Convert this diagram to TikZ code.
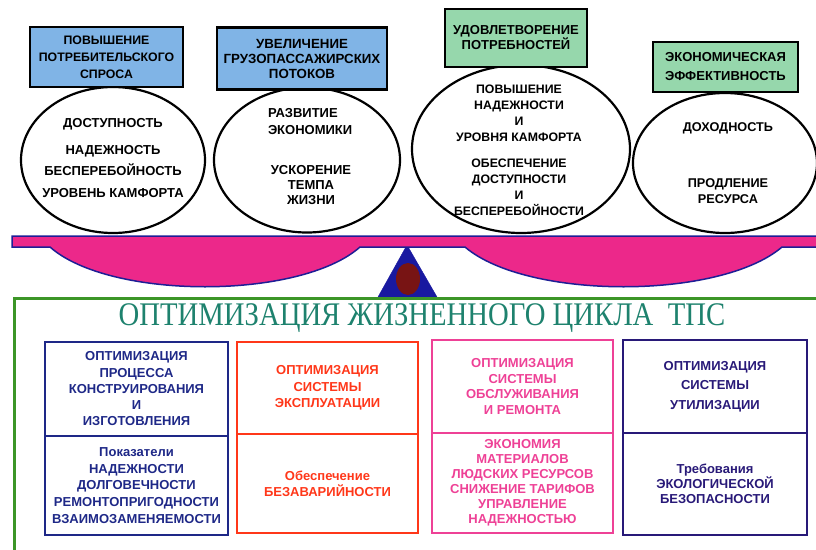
\documentclass[tikz,border=0pt]{standalone}
\usepackage{fontspec}
\setmainfont{Liberation Sans}
\newfontfamily\titlefont{Liberation Serif}
\usetikzlibrary{positioning,shapes.geometric}

\definecolor{skyfill}{RGB}{128,180,230}
\definecolor{mintfill}{RGB}{150,215,172}
\definecolor{beampink}{RGB}{236,40,138}
\definecolor{beamblue}{RGB}{30,30,150}
\definecolor{fulcrum}{RGB}{25,25,160}
\definecolor{knob}{RGB}{120,20,20}
\definecolor{framegreen}{RGB}{60,150,40}
\definecolor{titleteal}{RGB}{30,130,110}
\definecolor{navy}{RGB}{30,40,135}
\definecolor{redorange}{RGB}{255,55,25}
\definecolor{rosepink}{RGB}{238,65,150}
\definecolor{indigo}{RGB}{40,25,120}

\tikzset{
  goal/.style={draw, line width=2.5pt},
  oval/.style={ellipse, draw, line width=2.2pt},
  cell/.style={draw=#1, text=#1, line width=2.5pt},
  fs/.style 2 args={font=\bfseries\fontsize{#1}{#2}\selectfont},
  sz/.style={fs={13}{#1}},
}

\begin{document}
\begin{tikzpicture}[x=1pt,y=-1pt,
  every node/.style={align=center, inner sep=0pt, outer sep=0pt, sz=16}]
\useasboundingbox (0,0) rectangle (816,549);

% the four ovals and their goals
\node[oval, minimum width=184, minimum height=146] (o1) at (113,160) {};
\node[oval, minimum width=186, minimum height=145] (o2) at (307,160) {};
\node[oval, minimum width=218, minimum height=168] (o3) at (521,149) {};
\node[oval, minimum width=184, minimum height=140] (o4) at (725,163) {};

\node[goal, fill=skyfill, minimum width=153, minimum height=60, fs={12.3}{17},
  above=0pt of o1, xshift=-6.5pt] (g1) {ПОВЫШЕНИЕ\\ПОТРЕБИТЕЛЬСКОГО\\СПРОСА};
\node[goal, fill=skyfill, minimum width=170, minimum height=62, fs={13.3}{15},
  above=-2pt of o2, xshift=-5pt] (g2) {УВЕЛИЧЕНИЕ\\ГРУЗОПАССАЖИРСКИХ\\ПОТОКОВ};
\node[goal, fill=mintfill, minimum width=142, minimum height=58, sz=15,
  above=-2pt of o3, xshift=-5pt] (g3) {УДОВЛЕТВОРЕНИЕ\\ПОТРЕБНОСТЕЙ};
\node[goal, fill=mintfill, minimum width=145, minimum height=50, sz=19,
  above=1pt of o4, xshift=0.5pt] (g4) {ЭКОНОМИЧЕСКАЯ\\ЭФФЕКТИВНОСТЬ};

\node[sz=21.5] (t1) at (113,158)
  {ДОСТУПНОСТЬ\\[5.5pt]НАДЕЖНОСТЬ\\БЕСПЕРЕБОЙНОСТЬ\\УРОВЕНЬ КАМФОРТА};
\node[sz=17, align=left, anchor=west] (t2a) at (268,121.5) {РАЗВИТИЕ\\ЭКОНОМИКИ};
\node[sz=15] (t2b) at (311,185) {УСКОРЕНИЕ\\ТЕМПА\\ЖИЗНИ};
\node[fs={12.3}{16}] (t3) at (519,150.5) {ПОВЫШЕНИЕ\\НАДЕЖНОСТИ\\И\\УРОВНЯ КАМФОРТА\\[10pt]%
  ОБЕСПЕЧЕНИЕ\\ДОСТУПНОСТИ\\И\\БЕСПЕРЕБОЙНОСТИ};
\node[fs={12.7}{16}] (t4) at (728,163) {ДОХОДНОСТЬ\\[40pt]ПРОДЛЕНИЕ\\РЕСУРСА};

% scales
\draw[fill=fulcrum, draw=fulcrum, line join=round] (407,245) -- (437,297) -- (378,297) -- cycle;
\fill[knob] (408,279) ellipse [x radius=12, y radius=16];
\draw[fill=beampink, draw=beamblue, line width=1.5pt]
  (12,236) -- (818,236) -- (818,247) -- (782,247)
  .. controls (720,300) and (527,300) .. (465,247) -- (360,247)
  .. controls (300,300) and (110,300) .. (50,247) -- (12,247) -- cycle;

% lower frame
\draw[framegreen, line width=3pt] (830,298) -- (14,298) -- (14,560);
\node[font=\titlefont\fontsize{33}{33}\selectfont, text=titleteal, anchor=base] (title)
  at (422,325) {\scalebox{0.87}[1]{ОПТИМИЗАЦИЯ ЖИЗНЕННОГО ЦИКЛА\ \ ТПС}};

\node[cell=navy, minimum width=183, minimum height=94, sz=16.25] (a1) at (136.5,389)
  {ОПТИМИЗАЦИЯ\\ПРОЦЕССА\\КОНСТРУИРОВАНИЯ\\И\\ИЗГОТОВЛЕНИЯ};
\node[cell=navy, minimum width=183, minimum height=99, sz=16.75, below=0pt of a1] (a2)
  {Показатели\\НАДЕЖНОСТИ\\ДОЛГОВЕЧНОСТИ\\РЕМОНТОПРИГОДНОСТИ\\ВЗАИМОЗАМЕНЯЕМОСТИ};

\node[cell=redorange, minimum width=181, minimum height=92, sz=16.5] (b1) at (327.5,388)
  {ОПТИМИЗАЦИЯ\\СИСТЕМЫ\\ЭКСПЛУАТАЦИИ};
\node[cell=redorange, minimum width=181, minimum height=99, below=0pt of b1] (b2)
  {Обеспечение\\БЕЗАВАРИЙНОСТИ};

\node[cell=rosepink, minimum width=181, minimum height=93, sz=15.7] (c1) at (522.5,386.5)
  {ОПТИМИЗАЦИЯ\\СИСТЕМЫ\\ОБСЛУЖИВАНИЯ\\И РЕМОНТА};
\node[cell=rosepink, minimum width=181, minimum height=100, sz=15, below=0pt of c1] (c2)
  {ЭКОНОМИЯ\\МАТЕРИАЛОВ\\ЛЮДСКИХ РЕСУРСОВ\\СНИЖЕНИЕ ТАРИФОВ\\УПРАВЛЕНИЕ\\НАДЕЖНОСТЬЮ};

\node[cell=indigo, minimum width=184, minimum height=93, sz=19.5] (d1) at (715,386.5)
  {ОПТИМИЗАЦИЯ\\СИСТЕМЫ\\УТИЛИЗАЦИИ};
\node[cell=indigo, minimum width=184, minimum height=102, sz=15, below=0pt of d1] (d2)
  {Требования\\ЭКОЛОГИЧЕСКОЙ\\БЕЗОПАСНОСТИ};
\end{tikzpicture}
\end{document}
